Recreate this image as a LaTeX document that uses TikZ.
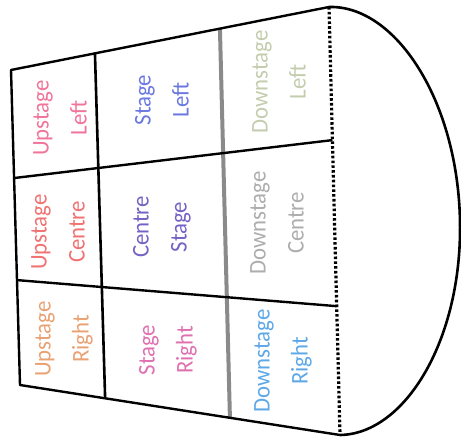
\documentclass[tikz,border=0pt]{standalone}
\usepackage{fontspec}
\setmainfont{Carlito}
\usetikzlibrary{calc}
\definecolor{cUL}{HTML}{F0759A}
\definecolor{cSL}{HTML}{6A78E0}
\definecolor{cDL}{HTML}{C4CCAE}
\definecolor{cUC}{HTML}{F07272}
\definecolor{cCS}{HTML}{7562C4}
\definecolor{cDC}{HTML}{ADADAD}
\definecolor{cUR}{HTML}{E8A274}
\definecolor{cSR}{HTML}{E070B0}
\definecolor{cDR}{HTML}{5EA8E8}
\definecolor{midgray}{HTML}{8A8A8A}
\begin{document}
\begin{tikzpicture}[x=1pt,y=-1pt,
  edge/.style={line width=2.4pt, black},
  grayline/.style={line width=4pt, midgray},
  dotline/.style={line width=3.2pt, dash pattern=on 2.6pt off 2.2pt},
  lbl/.style={rotate=90, xscale=0.95, align=center, font=\fontsize{24}{38}\selectfont, inner sep=0pt}]
\useasboundingbox (0,0) rectangle (461,443);
\coordinate (TL) at (11,70);
\coordinate (TR) at (329,7);
\coordinate (BR) at (340,435);
\coordinate (BL) at (20,385);
\coordinate (V1t) at ($(TL)!0.264!(TR)$);
\coordinate (V1b) at ($(BL)!0.266!(BR)$);
\coordinate (V2t) at ($(TL)!0.657!(TR)$);
\coordinate (V2b) at ($(BL)!0.656!(BR)$);
\coordinate (H1l) at ($(TL)!0.343!(BL)$);
\coordinate (H1r) at ($(TR)!0.311!(BR)$);
\coordinate (H2l) at ($(TL)!0.667!(BL)$);
\coordinate (H2r) at ($(TR)!0.699!(BR)$);
\coordinate (M) at (460,222);
% grid
\draw[grayline] (V2t) -- (V2b);
\draw[edge] (H1l) -- (H1r);
\draw[edge] (H2l) -- (H2r);
\draw[line width=2.6pt] (V1t) -- (V1b);
\draw[edge, line join=round] (BR) -- (BL) -- (TL) -- (TR);
\draw[dotline] (TR) -- (BR);
\draw[line width=2.6pt] (TR) .. controls (395,5) and (458,100) .. (M)
  .. controls (462,340) and (405,434) .. (BR);
% labels
\node[lbl, text=cUL] (ul) at (60,118) {Upstage\\Left};
\node[lbl, text=cSL] (sl) at (162,100) {Stage\\Left};
\node[lbl, text=cDL] (dl) at (279,82) {Downstage\\Left};
\node[lbl, text=cUC] (uc) at (58,232) {Upstage\\Centre};
\node[lbl, text=cCS] (cs) at (162,227) {Centre\\Stage};
\node[lbl, text=cDC] (dc) at (277,223) {Downstage\\Centre};
\node[lbl, text=cUR] (ur) at (64,339) {Upstage\\Right};
\node[lbl, text=cSR] (sr) at (168,350) {Stage\\Right};
\node[lbl, text=cDR] (dr) at (283,361) {Downstage\\Right};
\end{tikzpicture}
\end{document}
